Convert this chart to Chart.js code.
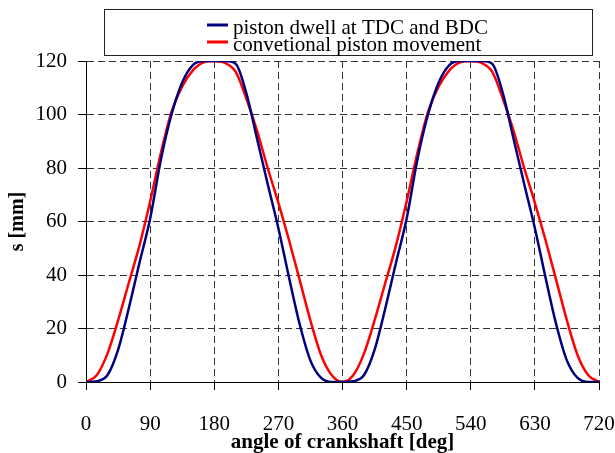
<!DOCTYPE html>
<html>
<head>
<meta charset="utf-8">
<script src="https://cdn.jsdelivr.net/npm/chart.js@4"></script>
<style>
  html, body { margin: 0; padding: 0; background: #fff; }
  #wrap { width: 615px; height: 453px; }
</style>
</head>
<body>
<div id="wrap"><canvas id="chart" width="615" height="453"></canvas></div>
<script>
// crank angle [deg]
const angles = [
  0, 15, 30, 45, 60, 75, 90, 105, 120, 135, 150, 165, 180,
  195, 210, 225, 240, 255, 270, 285, 300, 315, 330, 345, 360,
  375, 390, 405, 420, 435, 450, 465, 480, 495, 510, 525, 540,
  555, 570, 585, 600, 615, 630, 645, 660, 675, 690, 705, 720
];

// piston dwell at TDC and BDC, s [mm]
const dwellValues = [
  0, 0.3, 2.5, 12, 27.5, 44.5, 61, 83, 100, 112, 118.5, 120, 120,
  120, 119, 108, 91, 74, 57.5, 39, 21.5, 8, 1.5, 0, 0,
  0.3, 2.5, 12, 27.5, 44.5, 61, 83, 100, 112, 118.5, 120, 120,
  120, 119, 108, 91, 74, 57.5, 39, 21.5, 8, 1.5, 0, 0
];

// conventional piston movement, s [mm]
const conventionalValues = [
  0, 2.5, 10.5, 23, 37, 51, 67.5, 85.5, 101, 110.5, 116.5, 119.5, 120,
  119.3, 116, 106, 94, 80, 67, 53, 38, 23, 10, 2.5, 0,
  2.5, 10.5, 23, 37, 51, 67.5, 85.5, 101, 110.5, 116.5, 119.5, 120,
  119.3, 116, 106, 94, 80, 67, 53, 38, 23, 10, 2.5, 0
];

const seriesLabels = ['piston dwell at TDC and BDC', 'convetional piston movement'];
const seriesColors = ['#000080', '#ff0000'];

const serif = "'Liberation Serif', 'Times New Roman', serif";

/**
 * turn the angle list and a value list into {x, y} points
 * @param {array} values the s values
 */
const toPoints = values => angles.map((a, i) => ({ x: a, y: values[i] }));

/**
 * plugin drawing the framed legend above the plot
 */
const boxLegend = {
  id: 'boxLegend',
  afterDraw(chart) {
    const ctx = chart.ctx;
    ctx.save();
    ctx.strokeStyle = '#222';
    ctx.lineWidth = 1;
    ctx.strokeRect(104.5, 9.5, 488, 46);

    ctx.font = `21px ${serif}`;
    ctx.fillStyle = '#000';
    ctx.textBaseline = 'alphabetic';
    seriesLabels.forEach((label, i) => {
      const y = 34 + i * 17;
      ctx.strokeStyle = seriesColors[i];
      ctx.lineWidth = 3;
      ctx.beginPath();
      ctx.moveTo(207, y - 9);
      ctx.lineTo(228, y - 9);
      ctx.stroke();
      ctx.fillText(label, 233, y);
    });
    ctx.restore();
  }
};

const gridStyle = {
  color: '#333',
  lineWidth: 1,
  drawTicks: true,
  tickLength: 8,
  tickColor: '#000',
  tickBorderDash: [],
  tickWidth: 1
};

// dashes go on the grid lines, the axis line itself stays solid
const borderStyle = { display: true, color: '#000', width: 1, dash: [7, 4] };

new Chart(document.getElementById('chart'), {
  type: 'line',
  data: {
    datasets: [
      {
        label: seriesLabels[0],
        data: toPoints(dwellValues),
        borderColor: seriesColors[0],
        borderWidth: 2.5,
        pointRadius: 0,
        cubicInterpolationMode: 'monotone',
        fill: false
      },
      {
        label: seriesLabels[1],
        data: toPoints(conventionalValues),
        borderColor: seriesColors[1],
        borderWidth: 2.5,
        pointRadius: 0,
        cubicInterpolationMode: 'monotone',
        fill: false
      }
    ]
  },
  options: {
    responsive: false,
    animation: false,
    events: [],
    layout: { padding: { top: 61, right: 0, left: 0, bottom: 0 } },
    plugins: {
      legend: { display: false },
      tooltip: { enabled: false }
    },
    scales: {
      x: {
        type: 'linear',
        min: 0,
        max: 720,
        ticks: {
          stepSize: 90,
          color: '#000',
          padding: 22,
          font: { family: serif, size: 21 }
        },
        grid: gridStyle,
        border: borderStyle,
        title: {
          display: true,
          text: 'angle of crankshaft [deg]',
          color: '#000',
          font: { family: serif, size: 21, weight: 'bold', lineHeight: 1 },
          padding: { top: 0, bottom: 0 }
        },
        afterFit(scale) {
          scale.height = 71;
          scale.paddingRight = 16; // only half of the "720" label
        }
      },
      y: {
        min: 0,
        max: 120,
        ticks: {
          stepSize: 20,
          color: '#000',
          padding: 11,
          font: { family: serif, size: 21 }
        },
        grid: gridStyle,
        border: borderStyle,
        title: {
          display: true,
          text: 's [mm]',
          color: '#000',
          font: { family: serif, size: 20, weight: 'bold', lineHeight: 1 },
          padding: { top: 8, bottom: 0 }
        },
        afterFit(scale) { scale.width = 86; }
      }
    }
  },
  plugins: [boxLegend]
});
</script>
</body>
</html>
